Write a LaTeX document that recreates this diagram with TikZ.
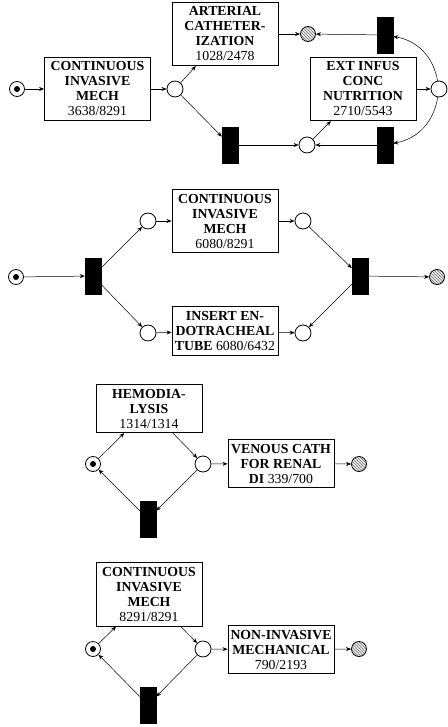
\documentclass[tikz,border=0pt]{standalone}
\usepackage{fontspec}
\setmainfont{Liberation Serif}
\usetikzlibrary{arrows.meta,patterns}

\begin{document}
\begin{tikzpicture}[x=1pt,y=-1pt,
  place/.style={draw,circle,line width=0.8pt,minimum size=16pt,inner sep=0pt},
  start/.style={place,minimum size=15pt},
  sink/.style={place,minimum size=15pt,preaction={fill=gray!15},pattern=north west lines,pattern color=gray!90!black},
  trans/.style={draw,fill=black,minimum width=16pt,minimum height=36pt,inner sep=0pt},
  task/.style={draw,line width=0.9pt,align=center,minimum width=106pt,inner xsep=2pt,inner ysep=4.5pt,font=\fontsize{13.8}{15}\selectfont\bfseries},
  arc/.style={-{Stealth[length=5pt,width=4pt]},line width=0.5pt}]

\useasboundingbox (0,0) rectangle (447,727);

%% First net
\node[start] (v1) at (17,89) {};
\fill (v1) circle (3pt);
\node[task] (v2) at (97.5,89) {CONTINUOUS\\INVASIVE\\MECH\\\mdseries 3638/8291};
\node[place] (v3) at (175,89) {};
\node[task] (v4) at (225,34) {ARTERIAL\\CATHETER-\\IZATION\\\mdseries 1028/2478};
\node[sink] (v5) at (308,34) {};
\node[trans] (v6) at (385,35) {};
\node[task] (v7) at (363,89) {EXT INFUS\\CONC\\NUTRITION\\\mdseries 2710/5543};
\node[place] (v8) at (439,89) {};
\node[trans] (v9) at (385,145) {};
\node[place] (v10) at (307,145) {};
\node[trans] (v11) at (230,145) {};

\draw[arc] (v1) -- (v2);
\draw[arc] (v2) -- (v3);
\draw[arc] (v3) -- (v4);
\draw[arc] (v3) -- (v11);
\draw[arc] (v4) -- (v5);
\draw[arc] (v6) -- (v5);
\draw[arc] (v11) -- (v10);
\draw[arc] (v9) -- (v10);
\draw[arc] (v10) -- (v7);
\draw[arc] (v7) -- (v8);
\draw[arc] (v8) to[bend right=35] (v6);
\draw[arc] (v8) to[bend left=35] (v9);

%% Second net
\node[start] (v12) at (16,277) {};
\fill (v12) circle (3pt);
\node[trans] (v13) at (93,276) {};
\node[place] (v14) at (148,221) {};
\node[place] (v15) at (148,333) {};
\node[task] (v16) at (225,221) {CONTINUOUS\\INVASIVE\\MECH\\\mdseries 6080/8291};
\node[task] (v17) at (225,331) {INSERT EN-\\DOTRACHEAL\\TUBE {\mdseries 6080/6432}};
\node[place] (v18) at (303,221) {};
\node[place] (v19) at (303,333) {};
\node[trans] (v20) at (360,276) {};
\node[sink] (v21) at (437,277) {};

\draw[arc] (v12) -- (v13);
\draw[arc] (v13) -- (v14);
\draw[arc] (v13) -- (v15);
\draw[arc] (v14) -- (v16);
\draw[arc] (v15) -- (v17);
\draw[arc] (v16) -- (v18);
\draw[arc] (v17) -- (v19);
\draw[arc] (v18) -- (v20);
\draw[arc] (v20) -- (v19);
\draw[arc] (v20) -- (v21);

%% Third net
\node[task] (v22) at (149,408.5) {HEMODIA-\\LYSIS\\\mdseries 1314/1314};
\node[start] (v23) at (93,464) {};
\fill (v23) circle (3pt);
\node[place] (v24) at (203,464) {};
\node[task] (v25) at (281,463.5) {VENOUS CATH\\FOR RENAL\\DI {\mdseries 339/700}};
\node[sink] (v26) at (359,464) {};
\node[trans] (v27) at (148,519) {};

\draw[arc] (v23) -- (v22);
\draw[arc] (v22) -- (v24);
\draw[arc] (v24) -- (v25);
\draw[arc] (v25) -- (v26);
\draw[arc] (v24) -- (v27);
\draw[arc] (v27) -- (v23);

%% Fourth net
\node[task] (v28) at (149,594.5) {CONTINUOUS\\INVASIVE\\MECH\\\mdseries 8291/8291};
\node[start] (v29) at (93,649) {};
\fill (v29) circle (3pt);
\node[place] (v30) at (203,649) {};
\node[task] (v31) at (281,649.5) {NON-INVASIVE\\MECHANICAL\\\mdseries 790/2193};
\node[sink] (v32) at (359,649) {};
\node[trans] (v33) at (148,705) {};

\draw[arc] (v29) -- (v28);
\draw[arc] (v28) -- (v30);
\draw[arc] (v30) -- (v31);
\draw[arc] (v31) -- (v32);
\draw[arc] (v30) -- (v33);
\draw[arc] (v33) -- (v29);
\end{tikzpicture}
\end{document}
